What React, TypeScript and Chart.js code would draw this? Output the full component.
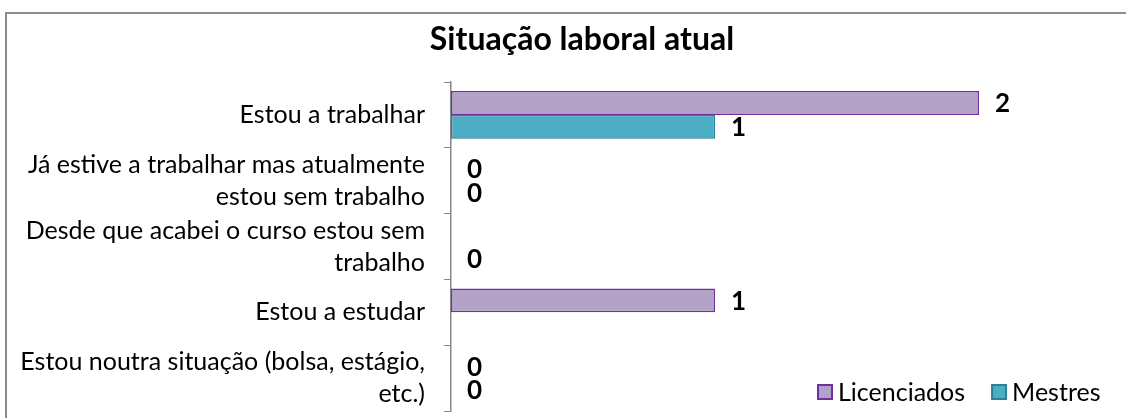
import React, { useEffect, useRef } from "react";
import { Chart, registerables } from "chart.js";

Chart.register(...registerables);

const TITLE = "Situação laboral atual";
const CATEGORIES: string[][] = [
  ["Estou a trabalhar"],
  ["Já estive a trabalhar mas atualmente", "estou sem trabalho"],
  ["Desde que acabei o curso estou sem", "trabalho"],
  ["Estou a estudar"],
  ["Estou noutra situação (bolsa, estágio,", "etc.)"],
];
const LICENCIADOS: (number | null)[] = [2, 0, null, 1, 0];
const MESTRES: (number | null)[] = [1, 0, 0, null, 0];
const SERIES_NAMES = ["Licenciados", "Mestres"];

const FONT = "Lato, 'DejaVu Sans', sans-serif";
const COLORS = [
  { fill: "#b3a2c7", border: "#7030a0" },
  { fill: "#4bacc6", border: "#2f7f94" },
];

const framePlugin = {
  id: "frame",
  beforeDraw(chart: any) {
    const ctx = chart.ctx;
    ctx.save();
    ctx.fillStyle = "#ffffff";
    ctx.fillRect(0, 0, chart.width, chart.height);
    ctx.strokeStyle = "#8c8c8c";
    ctx.lineWidth = 2;
    ctx.beginPath();
    ctx.moveTo(6, chart.height + 2);
    ctx.lineTo(6, 13);
    ctx.lineTo(chart.width + 2, 13);
    ctx.stroke();
    ctx.restore();
  },
};

const titlePlugin = {
  id: "customTitle",
  afterDraw(chart: any) {
    const ctx = chart.ctx;
    ctx.save();
    ctx.font = `bold 32px ${FONT}`;
    ctx.fillStyle = "#000";
    ctx.textAlign = "center";
    ctx.textBaseline = "middle";
    ctx.fillText(TITLE, 582, 40);
    ctx.restore();
  },
};

const valueLabelPlugin = {
  id: "valueLabels",
  afterDatasetsDraw(chart: any) {
    const ctx = chart.ctx;
    ctx.save();
    ctx.font = `bold 26px ${FONT}`;
    ctx.fillStyle = "#000";
    ctx.textAlign = "left";
    ctx.textBaseline = "middle";
    chart.data.datasets.forEach((ds: any, di: number) => {
      const meta = chart.getDatasetMeta(di);
      meta.data.forEach((bar: any, i: number) => {
        const v = ds.data[i];
        if (v === null || v === undefined) return;
        ctx.fillText(String(v), bar.x + 16, bar.y + 1);
      });
    });
    ctx.restore();
  },
};

const legendPlugin = {
  id: "customLegend",
  afterDraw(chart: any) {
    const ctx = chart.ctx;
    ctx.save();
    ctx.font = `25px ${FONT}`;
    ctx.textBaseline = "middle";
    ctx.textAlign = "left";
    let x = 817;
    const y = 392;
    chart.data.datasets.forEach((ds: any) => {
      ctx.fillStyle = ds.backgroundColor;
      ctx.fillRect(x + 1, y - 7, 14, 14);
      ctx.strokeStyle = ds.borderColor;
      ctx.lineWidth = 2;
      ctx.strokeRect(x + 1, y - 7, 14, 14);
      ctx.fillStyle = "#000";
      ctx.fillText(ds.label, x + 21, y + 1);
      x += 21 + ctx.measureText(ds.label).width + 26;
    });
    ctx.restore();
  },
};

export default function App() {
  const ref = useRef<HTMLCanvasElement | null>(null);
  useEffect(() => {
    document.body.style.margin = "0";
    if (!ref.current) return;
    const chart = new Chart(ref.current, {
      type: "bar",
      data: {
        labels: CATEGORIES,
        datasets: [
          {
            label: SERIES_NAMES[0],
            data: LICENCIADOS,
            backgroundColor: COLORS[0].fill,
            borderColor: COLORS[0].border,
            borderWidth: 1.5,
            borderSkipped: false,
          },
          {
            label: SERIES_NAMES[1],
            data: MESTRES,
            backgroundColor: COLORS[1].fill,
            borderColor: COLORS[1].border,
            borderWidth: 1.5,
            borderSkipped: false,
          },
        ],
      },
      options: {
        indexAxis: "y",
        animation: false,
        responsive: false,
        maintainAspectRatio: false,
        devicePixelRatio: 1,
        layout: { padding: { top: 82, bottom: 7, left: 0, right: 15 } },
        datasets: { bar: { categoryPercentage: 0.727, barPercentage: 1 } },
        plugins: {
          legend: { display: false },
          title: { display: false },
          tooltip: { enabled: false },
        },
        scales: {
          x: { display: false, min: 0, max: 2.5 },
          y: {
            afterFit(scale: any) {
              scale.width = 451;
              scale.paddingTop = 0;
              scale.paddingBottom = 0;
            },
            grid: {
              offset: true,
              drawOnChartArea: false,
              drawTicks: true,
              tickLength: 7,
              color: "#868686",
            },
            border: { display: true, color: "#868686", width: 1.5 },
            ticks: {
              autoSkip: false,
              color: "#000",
              padding: 19,
              font: { family: FONT, size: 25, lineHeight: 1.28 },
            },
          },
        },
      },
      plugins: [framePlugin, titlePlugin, valueLabelPlugin, legendPlugin],
    } as any);
    return () => chart.destroy();
  }, []);
  return (
    <canvas
      ref={ref}
      width={1126}
      height={418}
      style={{ display: "block", width: 1126, height: 418 }}
    />
  );
}
